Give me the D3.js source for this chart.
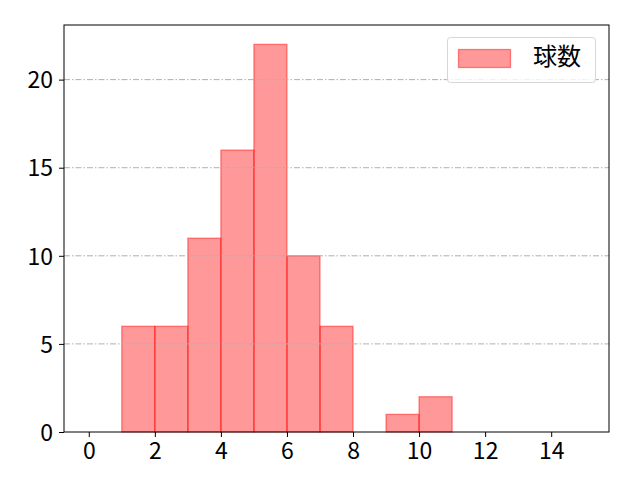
<!DOCTYPE html>
<html><head><meta charset="utf-8">
<script src="https://cdn.jsdelivr.net/npm/d3@7"></script>
<style>body{margin:0;background:#fff}</style>
</head><body>
<svg id="c" width="640" height="480"></svg>
<script>
const binStarts = [0,1,2,3,4,5,6,7,8,9,10,11,12,13,14];
const counts    = [0,6,6,11,16,22,10,6,0,1,2,0,0,0,0];
const xTicks = [0,2,4,6,8,10,12,14];
const yTicks = [0,5,10,15,20];
const seriesName = "球数";

const svg = d3.select("#c");
const L=64, R=609, T=25, B=432;
const font = "'Noto Sans CJK JP', sans-serif";
const x = d3.scaleLinear().domain([-0.75, 15.75]).range([L, R]);
const y = d3.scaleLinear().domain([0, 23.1]).range([B, T]);

svg.append("rect").attr("x",L).attr("y",T).attr("width",R-L).attr("height",B-T).attr("fill","#fff");

// bars
svg.append("g").selectAll("rect").data(binStarts).join("rect")
  .attr("x", d=>x(d)).attr("width", d=>x(d+1)-x(d))
  .attr("y", (d,i)=>y(counts[i])).attr("height",(d,i)=>y(0)-y(counts[i]))
  .attr("fill","red").attr("fill-opacity",0.4)
  .attr("stroke","red").attr("stroke-opacity",0.45).attr("stroke-width",1.3);

// grid
svg.append("g").selectAll("line").data(yTicks.filter(d=>d>0)).join("line")
  .attr("x1",L).attr("x2",R).attr("y1",d=>y(d)).attr("y2",d=>y(d))
  .attr("stroke","#b0b0b0").attr("stroke-width",1)
  .attr("stroke-dasharray","6,2,1.5,2");

// axes
const xa = svg.append("g").attr("transform",`translate(0,${B})`)
  .call(d3.axisBottom(x).tickValues(xTicks).tickSize(5).tickPadding(6).tickFormat(d3.format("d")));
const ya = svg.append("g").attr("transform",`translate(${L},0)`)
  .call(d3.axisLeft(y).tickValues(yTicks).tickSize(5).tickPadding(6).tickFormat(d3.format("d")));
[xa,ya].forEach(a=>{
  a.select(".domain").remove();
  a.selectAll("text").attr("font-family",font).attr("font-size",23).attr("fill","#000");
  a.selectAll("line").attr("stroke","#000").attr("stroke-width",1);
});
ya.selectAll("text").attr("dy","0.36em");
svg.append("rect").attr("x",L).attr("y",T).attr("width",R-L).attr("height",B-T)
  .attr("fill","none").attr("stroke","#000").attr("stroke-width",1);

// legend
const lg = svg.append("g");
lg.append("rect").attr("x",447.5).attr("y",37.5).attr("width",148).attr("height",45).attr("rx",3)
  .attr("fill","#fff").attr("fill-opacity",0.8).attr("stroke","#d6d6d6").attr("stroke-width",1);
lg.append("rect").attr("x",458.5).attr("y",49.5).attr("width",52).attr("height",18)
  .attr("fill","red").attr("fill-opacity",0.4)
  .attr("stroke","red").attr("stroke-opacity",0.45).attr("stroke-width",1.3);
lg.append("text").attr("x",533).attr("y",65).text(seriesName)
  .attr("font-family",font).attr("font-size",24).attr("fill","#000");
</script>
</body></html>
